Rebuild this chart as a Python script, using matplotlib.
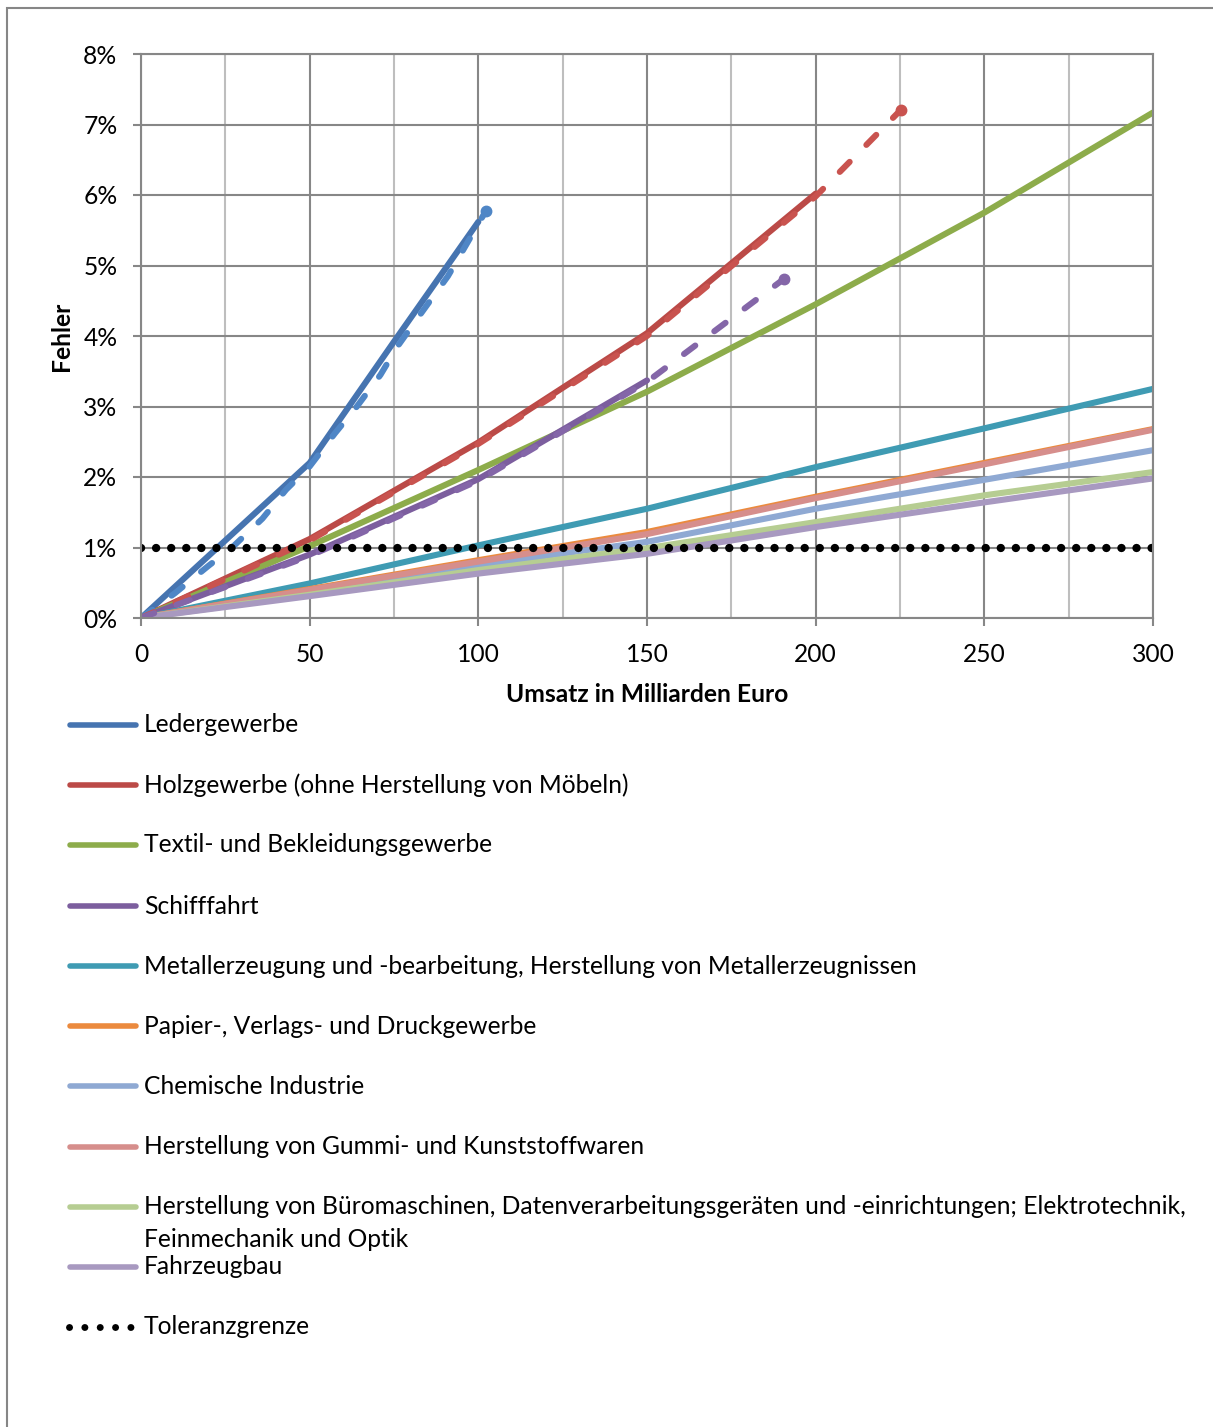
import matplotlib
matplotlib.use("Agg")
import matplotlib.pyplot as plt
from matplotlib.lines import Line2D
from matplotlib.patches import Rectangle
from matplotlib.ticker import MultipleLocator, FuncFormatter

W, H = 1213, 1427

plt.rcParams['font.family'] = ['Lato', 'DejaVu Sans']
FS = 17.7

# Umsatz-Stützstellen (Mrd. Euro)
umsatz = [0, 50, 100, 150, 200, 250, 300]

# Fehler in Prozent
leder_x = [0, 50, 75, 100]
leder = [0, 2.2, 3.92, 5.62]
leder_prog_x = [0, 10, 20, 27, 36, 43, 50, 57.5, 64, 71, 76, 83, 91, 102.3]
leder_prog = [0, 0.35, 0.74, 1.0, 1.41, 1.82, 2.15, 2.62, 3.0, 3.45, 3.85, 4.32, 4.85, 5.78]

holz_x = [0, 50, 100, 150, 200]
holz = [0, 1.12, 2.49, 4.04, 6.02]
holz_prog_x = [0, 50, 100, 150, 200, 225.3]
holz_prog = [0, 1.1, 2.47, 4.0, 5.98, 7.21]

textil = [0, 1.02, 2.1, 3.21, 4.45, 5.75, 7.17]

schiff_x = [0, 50, 100, 150]
schiff = [0, 0.9, 1.97, 3.37]
schiff_prog_x = [0, 50, 100, 150, 190.6]
schiff_prog = [0, 0.88, 1.95, 3.35, 4.81]

metall = [0, 0.49, 1.03, 1.55, 2.14, 2.69, 3.25]
papier = [0, 0.41, 0.82, 1.22, 1.72, 2.20, 2.68]
chemie = [0, 0.37, 0.75, 1.08, 1.55, 1.96, 2.38]
gummi = [0, 0.40, 0.80, 1.19, 1.70, 2.18, 2.67]
buero = [0, 0.33, 0.68, 0.99, 1.36, 1.74, 2.07]
fahrzeug = [0, 0.31, 0.63, 0.91, 1.29, 1.64, 1.98]

toleranz_x = [0, 300]
toleranz = [1, 1]

labels = [
    'Ledergewerbe',
    'Holzgewerbe (ohne Herstellung von Möbeln)',
    'Textil- und Bekleidungsgewerbe',
    'Schifffahrt',
    'Metallerzeugung und -bearbeitung, Herstellung von Metallerzeugnissen',
    'Papier-, Verlags- und Druckgewerbe',
    'Chemische Industrie',
    'Herstellung von Gummi- und Kunststoffwaren',
    'Herstellung von Büromaschinen, Datenverarbeitungsgeräten und -einrichtungen; Elektrotechnik,\nFeinmechanik und Optik',
    'Fahrzeugbau',
    'Toleranzgrenze',
]
colors = ['#4674B0', '#BB4A47', '#8DAC4B', '#7C5E9E', '#3F9BB3',
          '#EB8A3E', '#8FA9D3', '#D68E8C', '#B6CD92', '#A899C0']
prog_colors = ['#4F86C6', '#C9534F', None, '#8466A8']

LW = 4.4
DOT = (0, (0.01, 1.8))
DASH = (0, (2.3, 3.9))

fig = plt.figure(figsize=(W / 100, H / 100), dpi=100)
ax = fig.add_axes([141 / W, 1 - 618 / H, 1012 / W, 564 / H])

# Rahmen um die Grafik
fig.patches.append(Rectangle((7 / W, -0.1), 1.2, 1.1 - 8 / H, transform=fig.transFigure,
                             fill=False, edgecolor='#868686', lw=1.5))

grid_major = '#878787'
grid_minor = '#BEBEBE'

ax.set_xlim(0, 300)
ax.set_ylim(0, 8)
ax.xaxis.set_major_locator(MultipleLocator(50))
ax.xaxis.set_minor_locator(MultipleLocator(25))
ax.yaxis.set_major_locator(MultipleLocator(1))
ax.grid(which='major', color=grid_major, lw=1.5)
ax.grid(which='minor', axis='x', color=grid_minor, lw=1.5)
ax.set_axisbelow(True)
for s in ax.spines.values():
    s.set_color(grid_major)
    s.set_linewidth(1.5)
ax.tick_params(which='major', length=6, width=1.5, color=grid_major, labelsize=FS)
ax.tick_params(axis='x', pad=12)
ax.tick_params(axis='y', pad=11)
ax.tick_params(which='minor', length=0)
ax.yaxis.set_major_formatter(FuncFormatter(lambda v, p: '%d%%' % v))

series = [(leder_x, leder), (holz_x, holz), (umsatz, textil), (schiff_x, schiff),
          (umsatz, metall), (umsatz, papier), (umsatz, chemie), (umsatz, gummi),
          (umsatz, buero), (umsatz, fahrzeug)]
for (x, y), c in zip(series, colors):
    ax.plot(x, y, color=c, lw=LW, solid_capstyle='round', solid_joinstyle='round')

# Hochrechnungen (gestrichelt, mit Endpunkt)
for x, y, c in [(leder_prog_x, leder_prog, prog_colors[0]),
                (holz_prog_x, holz_prog, prog_colors[1]),
                (schiff_prog_x, schiff_prog, prog_colors[3])]:
    ax.plot(x, y, color=c, lw=LW, ls=DASH, dash_capstyle='round')
    ax.plot(x[-1], y[-1], 'o', color=c, ms=7.5)

ax.plot(toleranz_x, toleranz, color='black', lw=6, ls=DOT, dash_capstyle='round')

ax.set_xlabel('Umsatz in Milliarden Euro', fontsize=FS, fontweight='bold', labelpad=12)
ax.set_ylabel('Fehler', fontsize=FS, fontweight='bold', labelpad=7)

# Legende unter dem Diagramm
rows = [725, 785, 845, 906, 966, 1026, 1086, 1147, 1207, 1267, 1327]
for i, (lab, yy) in enumerate(zip(labels, rows)):
    fy = 1 - yy / H
    if i < len(colors):
        fig.add_artist(Line2D([70 / W, 136 / W], [fy, fy], transform=fig.transFigure,
                              color=colors[i], lw=4, solid_capstyle='round'))
    else:
        fig.add_artist(Line2D([69 / W, 131 / W], [fy, fy], transform=fig.transFigure,
                              color='black', lw=5, ls=(0, (0.01, 2.2)),
                              dash_capstyle='round'))
    if '\n' in lab:
        fy = 1 - (yy + 16) / H
    fig.text(144 / W, fy, lab, fontsize=FS, va='center', linespacing=1.5)

fig.savefig('out.png', dpi=100)
